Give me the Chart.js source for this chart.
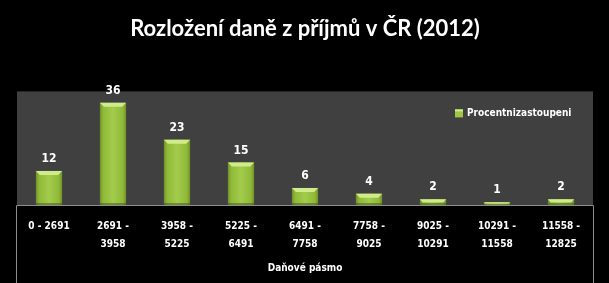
<!DOCTYPE html>
<html><head><meta charset="utf-8">
<script src="https://cdn.jsdelivr.net/npm/chart.js@4.4.0/dist/chart.umd.min.js"></script>
<style>html,body{margin:0;padding:0;background:#000;}#wrap{width:609px;height:283px;position:relative;}</style>
</head><body><div id="wrap"><canvas id="c" width="609" height="283"></canvas></div>
<script>
const chartTitle = "Rozložení daně z příjmů v ČR (2012)";
const axisTitle = "Daňové pásmo";
const seriesName = "Procentnizastoupeni";
const categories = [["0 - 2691"],["2691 -","3958"],["3958 -","5225"],["5225 -","6491"],["6491 -","7758"],["7758 -","9025"],["9025 -","10291"],["10291 -","11558"],["11558 -","12825"]];
const values = [12,36,23,15,6,4,2,1,2];
const yMax = 40;

const lblFont = '"DejaVu Sans Condensed", "DejaVu Sans", sans-serif';

const decor = {
  id: 'decor',
  beforeDraw(chart){
    const {ctx, chartArea:a, width, height} = chart;
    ctx.save();
    ctx.fillStyle = '#000'; ctx.fillRect(0,0,width,height);
    ctx.fillStyle = '#404040'; ctx.fillRect(a.left, a.top, a.right-a.left, a.bottom-a.top);
    ctx.restore();
  },
  afterDatasetsDraw(chart){
    const {ctx, chartArea:a, height} = chart;
    const meta = chart.getDatasetMeta(0);
    ctx.save();
    meta.data.forEach((el, i) => {
      const p = el.getProps(['x','y','base','width'], true);
      const l = p.x - p.width/2, r = p.x + p.width/2, t = p.y, b = p.base;
      const h = b - t;
      const bev = Math.min(4, h/2);
      const g = ctx.createLinearGradient(l,0,r,0);
      g.addColorStop(0,'#6f8f25'); g.addColorStop(0.12,'#90b93a'); g.addColorStop(0.5,'#a2cc4a'); g.addColorStop(0.88,'#90b93a'); g.addColorStop(1,'#6f8f25');
      ctx.fillStyle = g; ctx.fillRect(l,t,r-l,h);
      ctx.fillStyle = '#cfeb8c';
      ctx.beginPath(); ctx.moveTo(l,t); ctx.lineTo(r,t); ctx.lineTo(r-bev,t+bev); ctx.lineTo(l+bev,t+bev); ctx.closePath(); ctx.fill();
      ctx.fillStyle = 'rgba(60,80,20,0.5)';
      ctx.fillRect(l, b-Math.min(2,h/3), r-l, Math.min(2,h/3));
      ctx.fillStyle = '#fff';
      ctx.font = 'bold 12px ' + lblFont;
      ctx.textAlign = 'center'; ctx.textBaseline = 'middle';
      ctx.fillText(String(values[i]), p.x, t - 12);
    });
    ctx.strokeStyle = '#8c8c8c'; ctx.lineWidth = 1;
    ctx.beginPath();
    ctx.moveTo(a.left-0.5, height); ctx.lineTo(a.left-0.5, a.bottom+0.5); ctx.lineTo(a.right+0.5, a.bottom+0.5); ctx.lineTo(a.right+0.5, height);
    ctx.stroke();
    const lx = a.right - 138, ly = a.top + 22;
    ctx.fillStyle = '#9cc845'; ctx.fillRect(lx, ly-4, 8, 8);
    ctx.fillStyle = '#cfeb8c'; ctx.fillRect(lx, ly-4, 8, 2);
    ctx.fillStyle = '#fff'; ctx.font = 'bold 10px ' + lblFont;
    ctx.textAlign = 'left'; ctx.textBaseline = 'middle';
    ctx.fillText(seriesName, lx + 12, ly);
    ctx.restore();
  }
};

new Chart(document.getElementById('c'), {
  type: 'bar',
  data: { labels: categories, datasets: [{ label: seriesName, data: values, backgroundColor: 'rgba(0,0,0,0)', barPercentage: 0.41, categoryPercentage: 1 }] },
  options: {
    responsive: false, animation: false, devicePixelRatio: 1,
    layout: { padding: { left: 17, right: 16, top: 0, bottom: 9 } },
    plugins: {
      legend: { display: false },
      tooltip: { enabled: false },
      title: { display: true, text: chartTitle, color: '#fff', font: { family: 'Lato, "Open Sans", sans-serif', size: 22, weight: 'bold', lineHeight: 1.2 }, padding: { top: 16, bottom: 49 } }
    },
    scales: {
      x: {
        grid: { display: false }, border: { display: false },
        ticks: { color: '#fff', font: { family: lblFont, size: 10, weight: 'bold', lineHeight: 1.8 }, padding: 4, maxRotation: 0, autoSkip: false },
        title: { display: true, text: axisTitle, color: '#fff', font: { family: lblFont, size: 10, weight: 'bold' }, padding: { top: 5, bottom: 0 } }
      },
      y: { display: false, min: 0, max: yMax }
    }
  },
  plugins: [decor]
});
</script></body></html>
